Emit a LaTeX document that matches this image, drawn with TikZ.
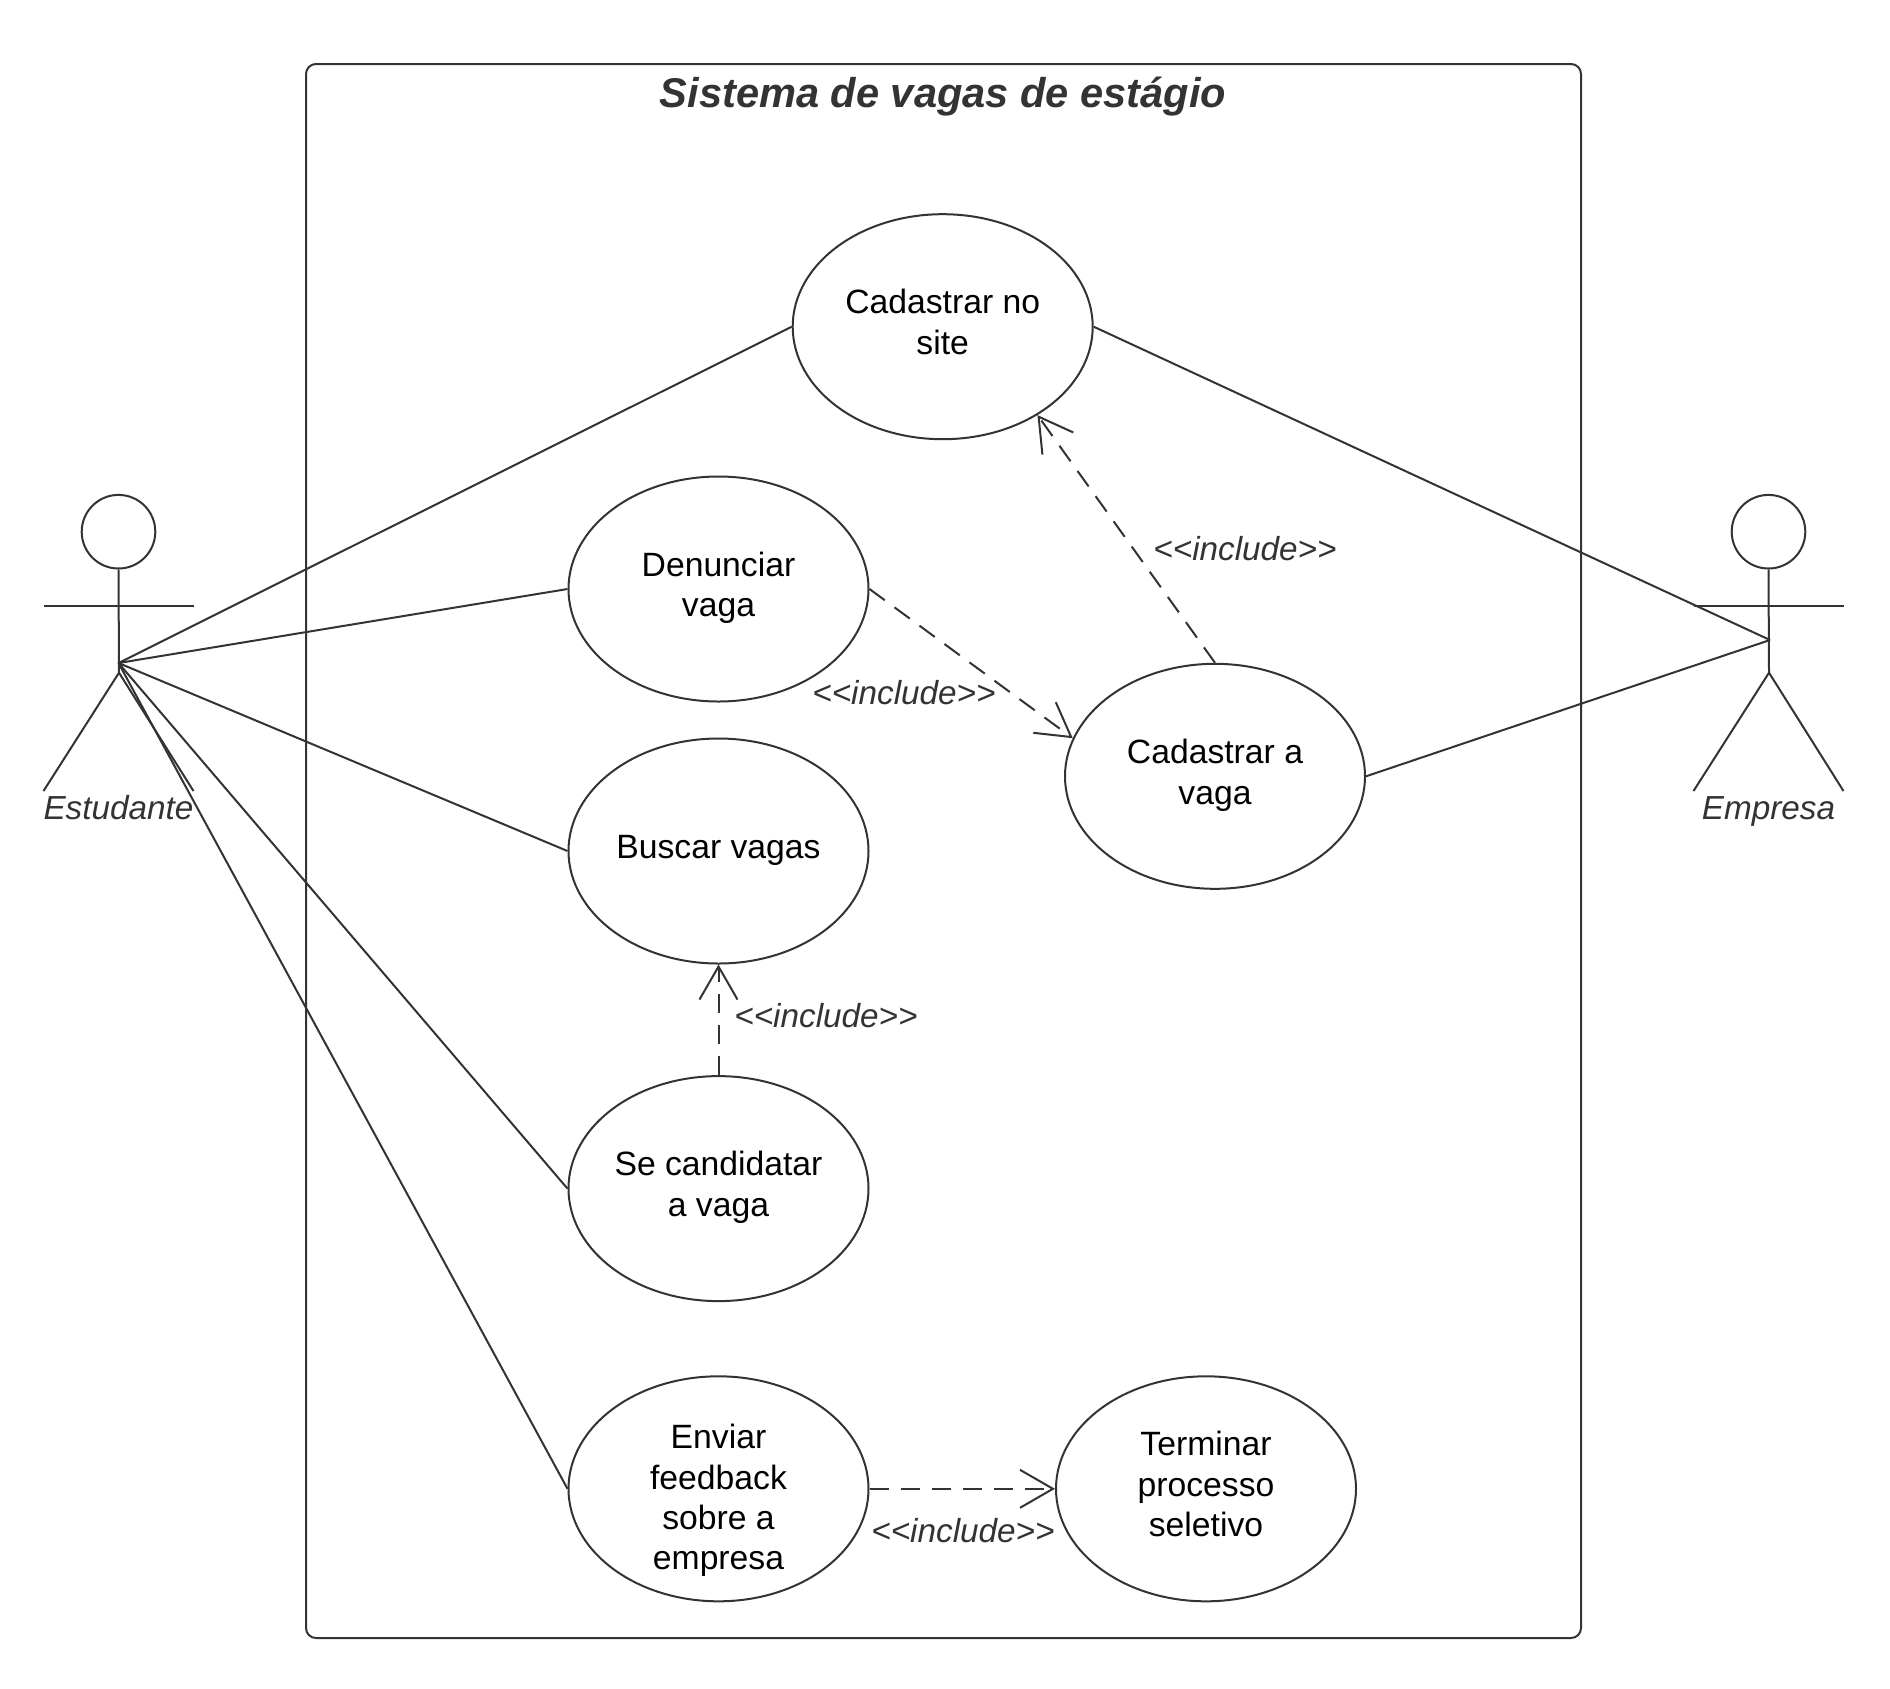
\documentclass[tikz,border=0pt]{standalone}
\usepackage{fontspec}
\setmainfont{Liberation Sans}
\usetikzlibrary{shapes}
\usetikzlibrary{arrows.meta}
\definecolor{line_grey}{HTML}{333333}
\tikzset{
	node_case/.style = {
		ellipse,
		align=center,
		inner sep=0pt,
		draw=line_grey,
		text=black,
		minimum width=150pt,
		minimum height=112.5pt,
		font=\fontsize{16.85}{20.2}\selectfont
	},
	text_lift/.style = {
		execute at end node={\rule[-#1]{0pt}{#1}}
	},
	node_label/.style = {
		inner sep=0pt,
		text=line_grey,
		font=\fontsize{16.65}{20.2}\selectfont\itshape
	},
	node_name/.style = {
		node_label,
		anchor=base
	},
	node_title/.style = {
		node_label,
		font=\fontsize{20.8}{24}\selectfont\bfseries\itshape
	},
	node_head/.style = {
		circle,
		inner sep=0pt,
		draw=line_grey,
		minimum size=36.8pt
	},
	link_assoc/.style = {
		-,
		draw=line_grey
	},
	link_incl/.style = {
		-{Straight Barb[length=16.5pt,width=19pt,line width=1pt]},
		draw=line_grey,
		dash pattern=on 9.5pt off 6pt
	},
}

\begin{document}
\begin{tikzpicture}[x=0.5pt,y=-0.5pt,line width=1pt]
\useasboundingbox (0,0) rectangle (1890,1688);
\draw [draw=line_grey,rounded corners=5pt] (306,64) rectangle (1581,1638);
\node [node_title] (title) at (943,96.6) {Sistema de vagas de estágio};

% actors
\foreach \id/\px/\txt in {stu/118.5/Estudante,emp/1768.5/Empresa} {
	\node [node_head] (\id_head) at (\px,531.7) {};
	\coordinate (\id_hip) at (\px+0.5,672.7);
	\coordinate (\id_arm_l) at (\px-75,605.7);
	\coordinate (\id_arm_r) at (\px+75,605.7);
	\coordinate (\id_leg_l) at (\px-75,791);
	\coordinate (\id_leg_r) at (\px+75,791);
	\draw [line_grey] (\id_head.south) -- (\id_hip);
	\draw [line_grey] (\id_arm_l) -- (\id_arm_r);
	\draw [line_grey] (\id_leg_l) -- (\id_hip) -- (\id_leg_r);
	\node [node_name] (\id_name) at (\px,819.8) {\txt};
}
\coordinate (stu_port) at (118.5,663);
\coordinate (emp_port) at (1770,640);

% use cases
\node [node_case,text_lift=5pt] (site) at (942.7,326.7) {Cadastrar no\\site};
\node [node_case,text_lift=4.7pt] (report) at (718.5,589) {Denunciar\\vaga};
\node [node_case,text_lift=4pt] (search) at (718.5,851) {Buscar vagas};
\node [node_case,text_lift=4.7pt] (apply) at (718.5,1188.6) {Se candidatar\\a vaga};
\node [node_case,inner ysep=-8pt] (feedback) at (718.5,1488.8) {\rule{0pt}{24pt}Enviar\\feedback\\sobre a\\empresa};
\node [node_case,text_lift=5pt] (finish) at (1206,1488.8) {Terminar\\processo\\seletivo};
\node [node_case,text_lift=4.7pt] (post) at (1215,776.3) {Cadastrar a\\vaga};

% associations
\draw [link_assoc] (stu_port) -- (site.west);
\draw [link_assoc] (stu_port) -- (report.west);
\draw [link_assoc] (stu_port) -- (search.west);
\draw [link_assoc] (stu_port) -- (apply.west);
\draw [link_assoc] (stu_port) -- (feedback.west);
\draw [link_assoc] (site.east) -- (emp_port);
\draw [link_assoc] (post.east) -- (emp_port);

% includes
\draw [link_incl] (post.north) -- (site.-43);
\draw [link_incl] (report.east) -- (post.165);
\draw [link_incl] (apply.north) -- (search.south);
\draw [link_incl] (feedback.east) -- (finish.west);
\node [node_label] (incl_post) at (1245,548.5) {<{}<include>{}>};
\node [node_label] (incl_report) at (904,693) {<{}<include>{}>};
\node [node_label] (incl_apply) at (826,1016) {<{}<include>{}>};
\node [node_label] (incl_feedback) at (963,1531) {<{}<include>{}>};
\end{tikzpicture}
\end{document}
